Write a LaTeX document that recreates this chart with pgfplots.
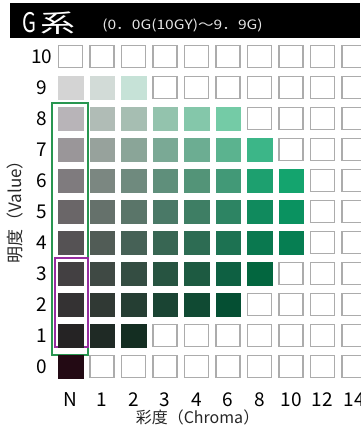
\documentclass[border=0pt]{standalone}
\usepackage{pgfplots}
\pgfplotsset{compat=1.18}
\usepackage{pgfplotstable}
\usepackage{fontspec}
\setmainfont{Noto Sans CJK JP}

\pgfplotstableread{
x y c
0 9 D4D4D4
0 8 B8B4B8
0 7 9A9699
0 6 7F7B7E
0 5 6A6668
0 4 555254
0 3 434042
0 2 343233
0 1 252324
0 0 230A14
1 9 D2DBD7
1 8 B0BCB6
1 7 97A29C
1 6 7B8781
1 5 65716B
1 4 515C56
1 3 3F4944
1 2 303934
1 1 1F2A25
2 9 C6E2D7
2 8 A6BEB2
2 7 8AA598
2 6 6F8A7E
2 5 5A7569
2 4 466156
2 3 344D42
2 2 253E33
2 1 142E22
3 8 93C3AD
3 7 7AA995
3 6 5F8F7B
3 5 4A7967
3 4 386653
3 3 275441
3 2 1A4433
4 8 84C7AA
4 7 6CAD92
4 6 539478
4 5 3E7E64
4 4 2D6C53
4 3 1D5A41
4 2 104A33
5 8 74CBA6
5 7 5BB38F
5 6 429977
5 5 2D8463
5 4 1D7252
5 3 0E6042
5 2 054F33
6 7 3CB688
6 6 1DA06F
6 5 108A5D
6 4 0A784F
6 3 03663F
7 6 14A46E
7 5 0A9260
7 4 067E52
}\filledcells

\pgfplotstableread{
x y
0 10
1 10
2 10
3 10
4 10
5 10
6 10
7 10
8 10
9 10
3 9
4 9
5 9
6 9
7 9
8 9
9 9
6 8
7 8
8 8
9 8
7 7
8 7
9 7
8 6
9 6
8 5
9 5
8 4
9 4
7 3
8 3
9 3
6 2
7 2
8 2
9 2
3 1
4 1
5 1
6 1
7 1
8 1
9 1
1 0
2 0
3 0
4 0
5 0
6 0
7 0
8 0
9 0
}\emptycells

\definecolor{frameg}{RGB}{40,150,80}
\definecolor{framep}{RGB}{150,45,160}
\definecolor{emptyc}{RGB}{172,172,172}

\begin{document}
\begin{tikzpicture}
\begin{axis}[
  scale only axis, width=310pt, height=341pt,
  xmin=-0.65, xmax=9.19, ymin=-0.5, ymax=10.5,
  axis line style={draw=none},
  major tick length=0pt,
  xtick={0,1,2,3,4,5,6,7,8,9},
  xticklabels={N,1,2,3,4,6,8,10,12,14},
  ytick={0,1,2,3,4,5,6,7,8,9,10},
  /pgf/number format/assume math mode=true,
  ticklabel style={font=\fontsize{19}{22}\selectfont},
  xticklabel style={anchor=center, yshift=-18pt},
  yticklabel style={anchor=center, xshift=-8pt},
]
\addplot[only marks, mark=square*, mark size=11.1pt,
  mark options={xscale=1.087, draw=emptyc, fill=white, line width=1.2pt}]
  table[x=x, y=y] {\emptycells};
\addplot[scatter, only marks, mark=square*, mark size=11.3pt,
  mark options={xscale=1.087},
  point meta=explicit symbolic,
  scatter/@pre marker code/.code={%
    \edef\temp{\noexpand\definecolor{mc}{HTML}{\pgfplotspointmeta}}\temp
    \scope[fill=mc, draw=mc]},
  scatter/@post marker code/.code={\endscope}]
  table[x=x, y=y, meta=c] {\filledcells};
\draw[frameg, line width=1.8pt] (axis cs:-0.587,0.37) rectangle (axis cs:0.556,8.5);
\draw[framep, line width=1.6pt] (axis cs:-0.49,0.63) rectangle (axis cs:0.556,3.5);
\end{axis}
% title bar
\fill[black] (-40pt,344pt) rectangle (310pt,379pt);
\node[anchor=base west, inner sep=0pt, text=white, font=\fontsize{27}{27}\selectfont, xscale=0.75] at (-28pt,349pt) {G};
\node[anchor=center, inner sep=0pt, text=white, font=\fontsize{25}{25}\selectfont, xscale=1.4] at (8.5pt,358.5pt) {系};
\node[anchor=center, inner sep=0pt, text=white!90!black, font=\fontsize{13}{13}\selectfont, xscale=1.2] at (132.5pt,357pt) {(0．0G(10GY)～9．9G)};
% axis labels
\node[anchor=center, font=\fontsize{16}{16}\selectfont, text=black!85] at (147.5pt,-35pt) {彩度（Chroma）};
\node[anchor=center, rotate=90, font=\fontsize{17}{17}\selectfont, text=black!85] at (-35pt,174pt) {明度（Value）};
\pgfresetboundingbox
\useasboundingbox (-50pt,-45pt) rectangle (310pt,382pt);
\end{tikzpicture}
\end{document}
